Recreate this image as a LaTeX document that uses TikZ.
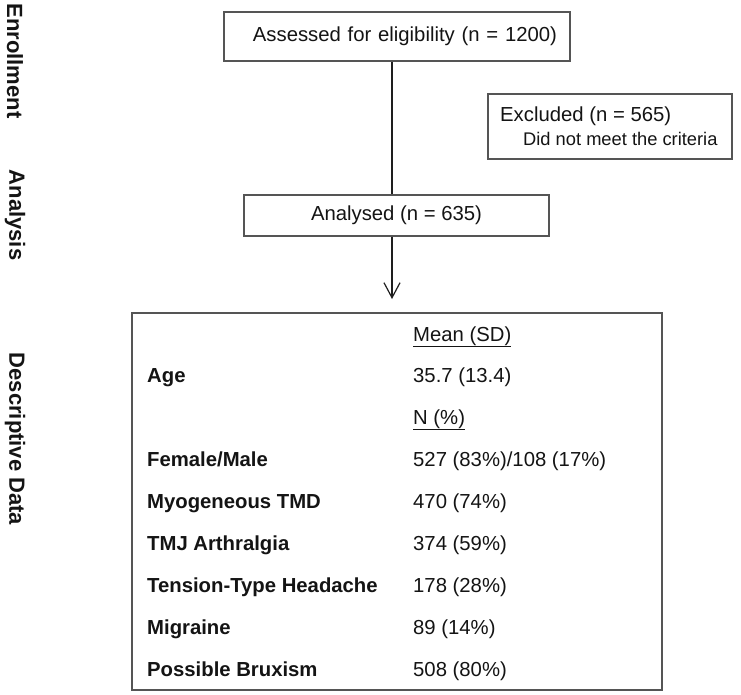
\documentclass[tikz,border=0pt]{standalone}
\usepackage{fontspec}
\setmainfont{Liberation Sans}
\usetikzlibrary{arrows.meta}
\definecolor{txt}{HTML}{141414}
\definecolor{boxc}{HTML}{555555}
\definecolor{linec}{HTML}{1E1E1E}
\begin{document}
\begin{tikzpicture}[x=1pt,y=-1pt,
  every node/.style={font=\fontsize{20.3}{24}\selectfont, text=txt},
  box/.style={draw=boxc, line width=1.1pt, inner sep=0pt},
  side/.style={font=\fontsize{22}{26}\selectfont\bfseries, rotate=-90, inner sep=0pt},
  lab/.style={anchor=base west, inner sep=0pt, font=\fontsize{20.3}{24}\selectfont\bfseries},
  val/.style={anchor=base west, inner sep=0pt},
  small/.style={anchor=base west, inner sep=0pt, font=\fontsize{18.3}{22}\selectfont},
  conn/.style={draw=linec, line width=1.2pt}]
\useasboundingbox[fill=white] (0,0) rectangle (741,695);

% side labels
\node[side] (enr) at (15,61) {Enrollment};
\node[side] (ana) at (15,215) {Analysis};
\node[side] (des) at (15,439) {Descriptive Data};

% boxes
\node[box, minimum width=346pt, minimum height=49pt, text width=320pt, align=right, inner xsep=13pt] (assess) at (397,36.5) {Assessed for eligibility (n = 1200)};
\node[box, minimum width=244pt, minimum height=65pt] (excl) at (610,126.5) {};
\node[small, font=\fontsize{20.3}{24}\selectfont] (exclA) at (500,122) {Excluded (n = 565)};
\node[small] (exclB) at (523,146) {Did not meet the criteria};
\node[box, minimum width=305pt, minimum height=41pt] (anal) at (396.5,215.5) {Analysed (n = 635)};
\node[box, minimum width=530pt, minimum height=377pt] (tab) at (397,501.5) {};

% connectors
\coordinate (ax) at (392,0);
\coordinate (tip) at (392,299);
\draw[conn] (assess.south -| ax) -- (anal.north -| ax);
\draw[conn, -{Straight Barb[length=15pt,width=16pt,line width=1.2pt]}] (anal.south -| ax) -- (tip);

% table
\node[val] (hmean) at (413,341) {\underline{Mean (SD)}};
\node[lab] (lage) at (147,382) {Age};
\node[val] (vage) at (413,382) {35.7 (13.4)};
\node[val] (hn) at (413,424) {\underline{N (\%)}};
\node[lab] (lfm) at (147,466) {Female/Male};
\node[val] (vfm) at (413,466) {527 (83\%)/108 (17\%)};
\node[lab] (lmyo) at (147,508) {Myogeneous TMD};
\node[val] (vmyo) at (413,508) {470 (74\%)};
\node[lab] (ltmj) at (147,550) {TMJ Arthralgia};
\node[val] (vtmj) at (413,550) {374 (59\%)};
\node[lab] (ltth) at (147,592) {Tension-Type Headache};
\node[val] (vtth) at (413,592) {178 (28\%)};
\node[lab] (lmig) at (147,634) {Migraine};
\node[val] (vmig) at (413,634) {89 (14\%)};
\node[lab] (lbrx) at (147,676) {Possible Bruxism};
\node[val] (vbrx) at (413,676) {508 (80\%)};
\end{tikzpicture}
\end{document}
